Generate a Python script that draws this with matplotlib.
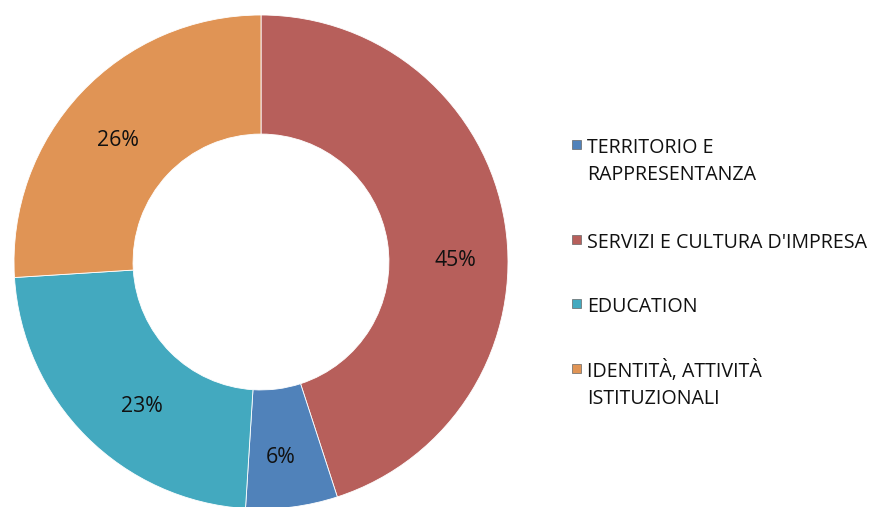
import matplotlib.pyplot as plt
from matplotlib.patches import Rectangle

plt.rcParams['font.family'] = ['Open Sans', 'DejaVu Sans']

# data (clockwise from the top, as drawn)
labels = ['SERVIZI E CULTURA D\'IMPRESA', 'TERRITORIO E\nRAPPRESENTANZA',
          'EDUCATION', 'IDENTITÀ, ATTIVITÀ\nISTITUZIONALI']
values = [45, 6, 23, 26]
colors = ['#B75F5B', '#5082BA', '#43A9BF', '#E09455']

# legend order
legend_order = [1, 0, 2, 3]

W, H = 874, 507
fig = plt.figure(figsize=(W / 100, H / 100), dpi=100)

cx, cy, r = 261, 262, 247
ax = fig.add_axes([(cx - r) / W, (H - cy - r) / H, 2 * r / W, 2 * r / H])
wedges, texts, autotexts = ax.pie(
    values, colors=colors, startangle=90, counterclock=False,
    radius=1, autopct='%d%%', pctdistance=0.765,
    wedgeprops=dict(width=0.482, edgecolor='white', linewidth=0.6),
    textprops=dict(fontsize=15.3, color='#111111'))
ax.set_xlim(-1, 1)
ax.set_ylim(-1, 1)
ax.axis('off')

# Excel put the data labels slightly off the wedge middles
label_pos = [(0.785, 0.005), (0.081, -0.79), (-0.482, -0.583), (-0.579, 0.49)]
for t, p in zip(autotexts, label_pos):
    t.set_position(p)

# legend drawn by hand to mimic the Excel layout
baselines = [153, 248, 312, 377]
line_pitch = 27.5
for i, y in zip(legend_order, baselines):
    fig.patches.append(Rectangle((572 / W, (H - y + 4) / H), 9 / W, 9 / H,
                                 transform=fig.transFigure,
                                 facecolor=colors[i], edgecolor='#666666',
                                 linewidth=0.5))
    for k, line in enumerate(labels[i].split('\n')):
        fig.text(587 / W, (H - y - k * line_pitch) / H, line, fontsize=14.1,
                 color='#111111', va='baseline', ha='left')

fig.savefig('out.png', dpi=100)
